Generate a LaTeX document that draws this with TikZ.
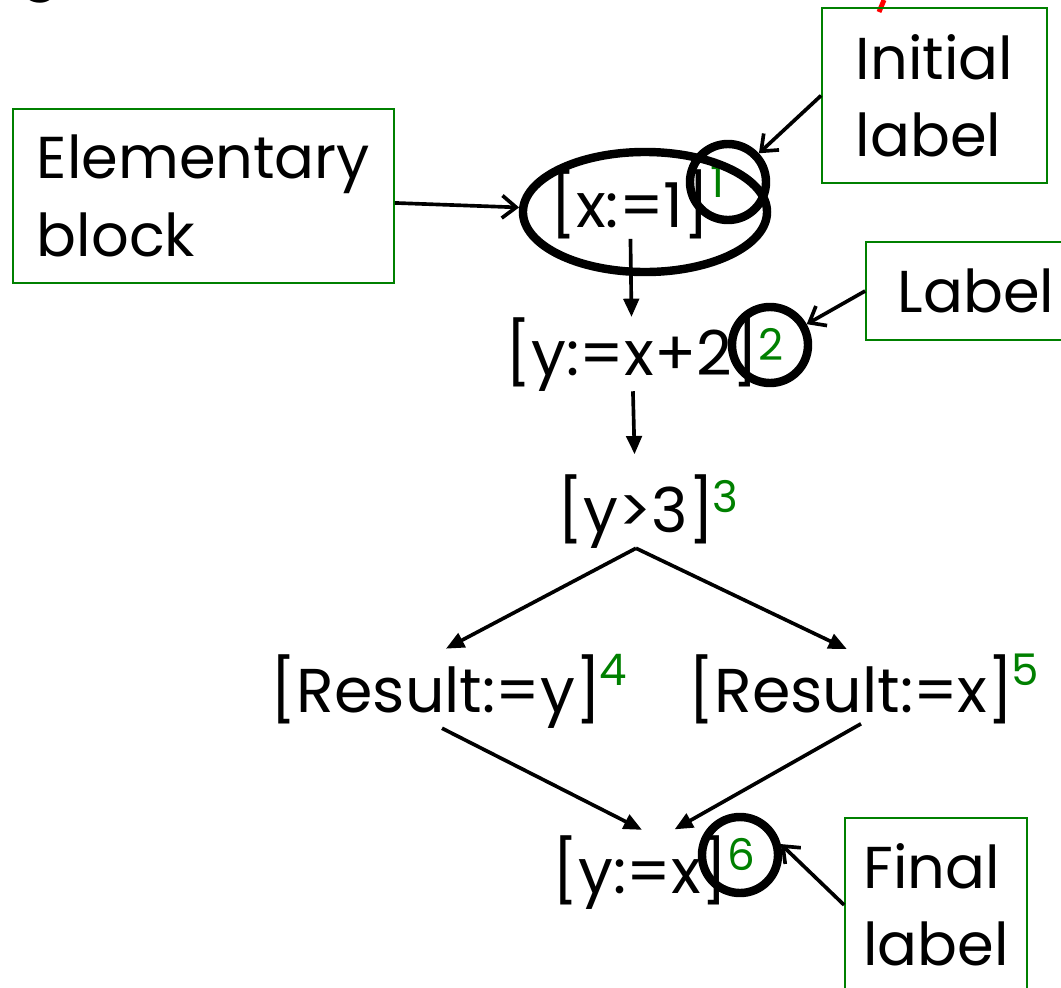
\documentclass[tikz,border=0pt]{standalone}
\usepackage{fontspec}
\setmainfont{Poppins}
\usetikzlibrary{arrows.meta,shapes.geometric}

\definecolor{labgreen}{RGB}{0,128,0}

\tikzset{
  stmt/.style={font=\fontsize{44}{52}\selectfont, inner sep=0pt, anchor=base},
  lab/.style={font=\fontsize{31}{36}\selectfont, text=labgreen, inner sep=0pt, anchor=base west},
  callout/.style={draw=labgreen, line width=1.2pt, align=left, inner sep=0pt,
    font=\fontsize{42}{55}\selectfont},
  ring/.style={draw, circle, line width=6pt, minimum size=1.9cm, inner sep=0pt},
  flow/.style={-{Triangle[length=13pt,width=11pt]}, line width=2.6pt},
  pointer/.style={-{Straight Barb[length=10pt,width=16pt]}, line width=2.6pt}
}

\begin{document}
\begin{tikzpicture}[x=0.025cm, y=-0.025cm]
\useasboundingbox (0,0) rectangle (1061,988);

% cut-off title above
\node[font=\fontsize{44}{52}\selectfont, anchor=base] (title) at (40,-14) {g};
\draw[red, line width=3.5pt] (884,0) -- (879,12);

% the program, one block per line
\node[stmt] (s1) at (630,227) {[x:=1]};
\node[stmt] (s2) at (632,375) {[y:=x+2]};
\node[stmt] (s3) at (636,532) {[y>3]};
\node[stmt] (s4) at (436,712) {[Result:=y]};
\node[stmt] (s5) at (851,712) {[Result:=x]};
\node[stmt] (s6) at (640,893) {[y:=x]};

% labels
\node[lab] (l1) at ([xshift=0pt,yshift=21pt]s1.base east) {1};
\node[lab] (l2) at ([xshift=0pt,yshift=10pt]s2.base east) {2};
\node[lab] (l3) at ([xshift=-2pt,yshift=14pt]s3.base east) {3};
\node[lab] (l4) at ([xshift=-2pt,yshift=19pt]s4.base east) {4};
\node[lab] (l5) at ([xshift=-2pt,yshift=19pt]s5.base east) {5};
\node[lab] (l6) at ([xshift=0pt,yshift=16pt]s6.base east) {6};

% flow
\draw[flow] (s1) -- (s2);
\draw[flow, shorten >=14pt] (s2) -- (s3);
\draw[flow, shorten >=8pt] (s3.south) -- (s4.north);
\draw[flow, shorten >=8pt] (s3.south) -- ([xshift=0.15cm]s5.north);
\draw[flow, shorten >=8pt] ([xshift=0.15cm]s4.south) -- ([xshift=0.3cm]s6.north);
\draw[flow, shorten >=8pt] ([xshift=0.25cm]s5.south) -- ([xshift=0.62cm]s6.north);

% marked parts
\node[draw, ellipse, line width=6pt, minimum width=6.1cm, minimum height=3cm] (blk) at (645,212) {};
\node[ring] (r1) at (728,182) {};
\node[ring] (r2) at (770,345) {};
\node[ring] (r3) at (740,855) {};

% explanations
\node[callout, minimum width=9.525cm, minimum height=4.35cm] (ebox) at (203.5,196) {Elementary\\block};
\node[callout, minimum width=5.625cm, minimum height=4.375cm] (ibox) at (934.5,95.5) {Initial\\label};
\node[callout, minimum width=5.5cm, minimum height=2.45cm] (lbox) at (976,291) {Label};
\node[callout, minimum width=4.55cm, minimum height=4.35cm] (fbox) at (936,905) {Final\\label};

\draw[pointer] (ebox) -- (blk);
\draw[pointer] (ibox.west) -- (r1);
\draw[pointer] (lbox.west) -- (r2);
\draw[pointer] (fbox.west) -- (r3.15);
\end{tikzpicture}
\end{document}
